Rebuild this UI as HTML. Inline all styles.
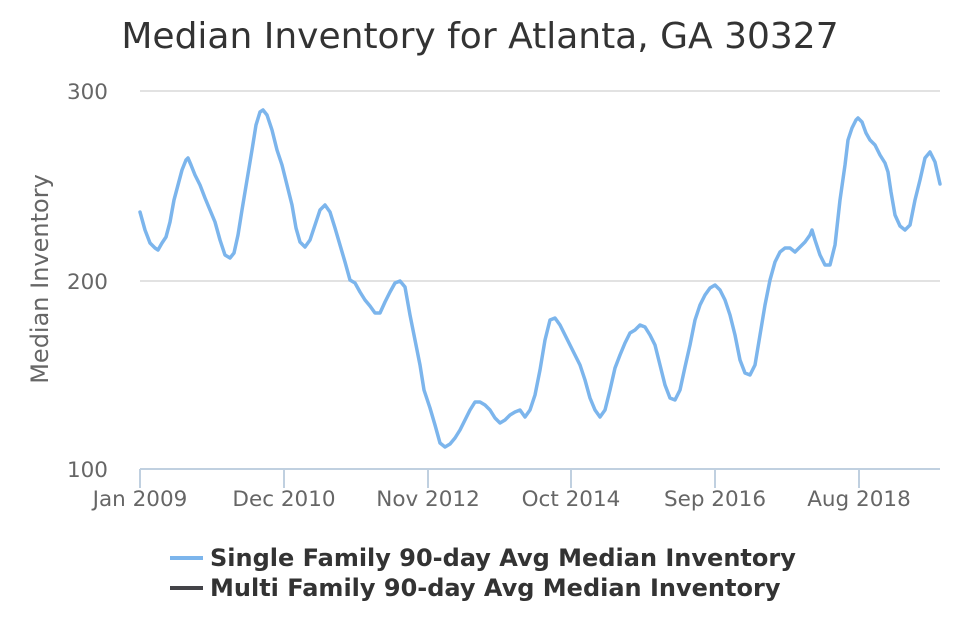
<!DOCTYPE html>
<html><head><meta charset="utf-8"><style>
html,body{margin:0;padding:0;background:#fff;}
svg{display:block;font-family:"DejaVu Sans","Liberation Sans",sans-serif;}
</style></head><body>
<svg width="960" height="640" viewBox="0 0 960 640" xmlns="http://www.w3.org/2000/svg">
<text x="480" y="48" text-anchor="middle" font-size="36" fill="#333">Median Inventory for Atlanta, GA 30327</text>
<g stroke="#d8d8d8" stroke-width="1.5">
<line x1="140" y1="91" x2="940" y2="91"/>
<line x1="140" y1="281" x2="940" y2="281"/>
</g>
<g stroke="#c0d0e0" stroke-width="2" fill="none">
<line x1="140" y1="469" x2="940" y2="469"/>
<line x1="140" y1="469" x2="140" y2="488"/>
<line x1="284" y1="469" x2="284" y2="488"/>
<line x1="428" y1="469" x2="428" y2="488"/>
<line x1="571" y1="469" x2="571" y2="488"/>
<line x1="715" y1="469" x2="715" y2="488"/>
<line x1="859" y1="469" x2="859" y2="488"/>
</g>
<g font-size="21.5" fill="#666" text-anchor="end">
<text x="108" y="99">300</text>
<text x="108" y="289">200</text>
<text x="108" y="477">100</text>
</g>
<g font-size="21.5" fill="#666" text-anchor="middle">
<text x="140" y="506">Jan 2009</text>
<text x="284" y="506">Dec 2010</text>
<text x="428" y="506">Nov 2012</text>
<text x="571" y="506">Oct 2014</text>
<text x="715" y="506">Sep 2016</text>
<text x="859" y="506">Aug 2018</text>
</g>
<text transform="translate(48,279) rotate(-90)" font-size="24" fill="#666" text-anchor="middle">Median Inventory</text>
<polyline fill="none" stroke="#7cb5ec" stroke-width="3.5" stroke-linejoin="round" stroke-linecap="round" points="140,212 145,230 150,243 155,248 158,250 162,243 166,237 170,222 174,200 178,185 182,170 186,160 188,158 191,165 195,175 200,185 205,198 210,210 215,222 220,240 225,255 230,258 234,253 238,235 242,210 247,180 252,150 256,125 260,112 263,110 267,115 272,130 277,150 282,165 287,185 292,205 296,228 300,242 305,247 310,240 315,225 320,210 325,205 330,212 335,228 340,245 345,262 350,280 355,283 360,292 365,300 370,306 375,313 380,313 385,302 390,292 395,283 400,281 405,287 410,315 415,340 420,365 424,390 430,408 435,425 440,443 445,447 450,444 455,438 460,430 465,420 470,410 475,402 480,402 485,405 490,410 495,418 500,423 505,420 510,415 515,412 520,410 525,417 530,410 535,395 540,370 545,340 550,320 555,318 560,325 565,335 570,345 575,355 580,365 585,380 590,398 595,410 600,417 605,410 610,390 615,368 620,355 625,343 630,333 635,330 640,325 645,327 650,335 655,345 660,365 665,385 670,398 675,400 680,390 685,367 690,345 695,320 700,305 705,295 710,288 715,285 720,290 725,300 730,315 735,335 740,360 745,373 750,375 755,365 760,335 765,305 770,280 775,262 780,252 785,248 790,248 795,252 800,247 805,242 810,235 812,230 815,240 820,255 825,265 830,265 835,245 840,200 845,165 848,140 852,128 856,120 858,118 862,122 866,133 870,140 875,145 880,155 885,163 888,172 891,192 895,215 900,226 905,230 910,225 915,200 920,180 925,158 930,152 935,162 940,184"/>
<line x1="170" y1="558" x2="203" y2="558" stroke="#7cb5ec" stroke-width="4"/>
<line x1="170" y1="588" x2="203" y2="588" stroke="#434348" stroke-width="4"/>
<g font-size="24" font-weight="bold" fill="#333">
<text x="210" y="566">Single Family 90-day Avg Median Inventory</text>
<text x="210" y="596">Multi Family 90-day Avg Median Inventory</text>
</g>
</svg>
</body></html>
